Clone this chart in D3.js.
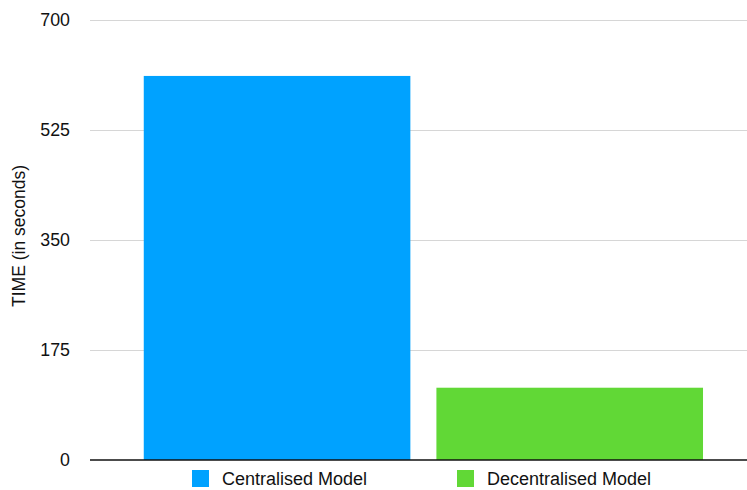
<!DOCTYPE html>
<html>
<head>
<meta charset="utf-8">
<script src="https://cdn.jsdelivr.net/npm/d3@7"></script>
<style>
  html, body { margin: 0; padding: 0; background: #fff; }
  svg { display: block; font-family: "Liberation Sans", Arial, Helvetica, sans-serif; }
</style>
</head>
<body>
<svg id="chart" width="747" height="490"></svg>
<script>
// Chart data
const categories = ["Centralised Model", "Decentralised Model"];
const times = [611, 115];
const colors = ["#00A2FF", "#61D836"];
const yTicks = [0, 175, 350, 525, 700];
const yTitle = "TIME (in seconds)";

const svg = d3.select("#chart");

const plot = { left: 90, right: 747, top: 20, bottom: 460 };

const y = d3.scaleLinear().domain([0, 700]).range([plot.bottom, plot.top]);
const x = d3.scaleBand()
  .domain(categories)
  .range([plot.left, plot.right])
  .paddingInner(0.089)
  .paddingOuter(0.167)
  .align(0.55);

// Gridlines and tick labels
const yAxis = d3.axisLeft(y).tickValues(yTicks).tickSize(0).tickPadding(20)
  .tickFormat(d3.format("d"));
const gy = svg.append("g").attr("transform", `translate(${plot.left},0)`).call(yAxis);
gy.select(".domain").remove();
gy.selectAll(".tick text")
  .attr("font-size", 17.8)
  .attr("fill", "#111")
  .attr("font-family", "Liberation Sans, Arial, sans-serif");
gy.selectAll(".tick")
  .filter(d => d !== 0)
  .append("line")
  .attr("x1", 0).attr("x2", plot.right - plot.left)
  .attr("stroke", "#d6d6d6").attr("stroke-width", 1.2);

// Bars
svg.append("g").selectAll("rect")
  .data(categories)
  .join("rect")
  .attr("x", d => x(d))
  .attr("width", x.bandwidth())
  .attr("y", (d, i) => y(times[i]))
  .attr("height", (d, i) => y(0) - y(times[i]))
  .attr("fill", (d, i) => colors[i]);

// Baseline
svg.append("line")
  .attr("x1", plot.left).attr("x2", plot.right)
  .attr("y1", y(0)).attr("y2", y(0))
  .attr("stroke", "#111").attr("stroke-width", 1.5);

// Y-axis title
svg.append("text")
  .attr("transform", "translate(25,236) rotate(-90)")
  .attr("text-anchor", "middle")
  .attr("font-size", 17.5)
  .attr("fill", "#111")
  .text(yTitle);

// Legend
const legendX = [192, 457];
const lg = svg.append("g").selectAll("g")
  .data(categories)
  .join("g")
  .attr("transform", (d, i) => `translate(${legendX[i]},470)`);
lg.append("rect")
  .attr("width", 17).attr("height", 17)
  .attr("fill", (d, i) => colors[i]);
lg.append("text")
  .attr("x", 30).attr("y", 14.5)
  .attr("font-size", 18)
  .attr("fill", "#111")
  .text(d => d);
</script>
</body>
</html>
